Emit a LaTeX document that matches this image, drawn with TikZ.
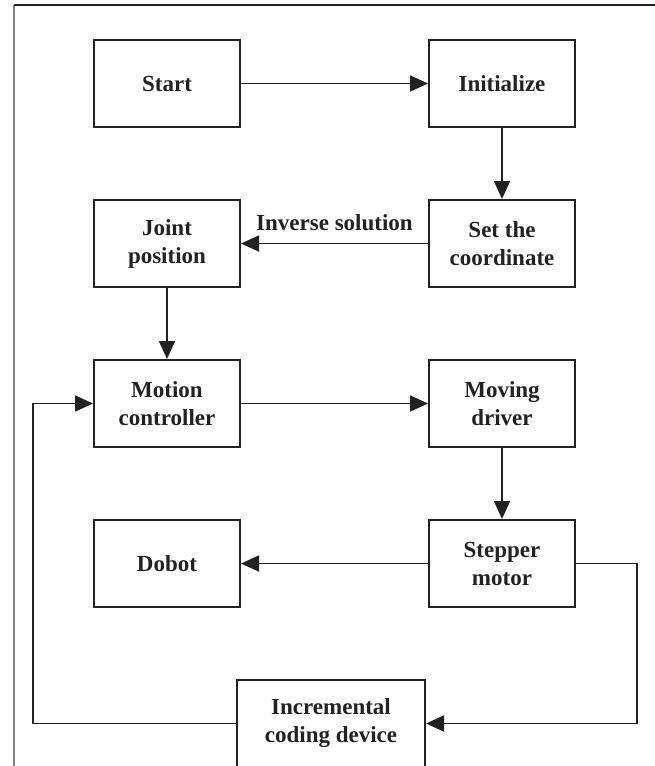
\documentclass[tikz,border=0pt]{standalone}
\usepackage{fontspec}
\setmainfont{Liberation Serif}
\usetikzlibrary{arrows.meta}
\definecolor{ink}{HTML}{222222}
\tikzset{
  box/.style={draw=ink, line width=2pt, minimum width=146pt, minimum height=87pt, inner sep=0pt, align=center, text=ink, font=\fontsize{23}{28}\selectfont\bfseries},
  flow/.style={draw=ink, line width=1.8pt, -{Triangle[length=18pt,width=16pt]}},
  lbl/.style={text=ink, font=\fontsize{23}{28}\selectfont\bfseries}
}
\begin{document}
\begin{tikzpicture}[x=1pt,y=-1pt]
\useasboundingbox (0,0) rectangle (655,766);
\draw[gray, line width=1.6pt] (14,766) -- (14,5);
\draw[ink, line width=1.6pt] (14,5) -- (655,5);
\node[box] (start) at (167,83.5) {Start};
\node[box] (init) at (502,83.5) {Initialize};
\node[box] (set) at (502,243.5) {Set the\\coordinate};
\node[box] (joint) at (167,243.5) {Joint\\position};
\node[box] (motion) at (167,403.5) {Motion\\controller};
\node[box] (moving) at (502,403.5) {Moving\\driver};
\node[box] (stepper) at (502,563.5) {Stepper\\motor};
\node[box] (dobot) at (167,563.5) {Dobot};
\node[box, minimum width=188pt] (enc) at (331,723.5) {Incremental\\coding device};
\coordinate (r1) at (637,563.5);
\coordinate (r2) at (637,723.5);
\coordinate (l1) at (33,723.5);
\coordinate (l2) at (33,403.5);
\draw[flow] (start) -- (init);
\draw[flow] (init) -- (set);
\draw[flow] (set) -- node[above=8pt, lbl] {Inverse solution} (joint);
\draw[flow] (joint) -- (motion);
\draw[flow] (motion) -- (moving);
\draw[flow] (moving) -- (stepper);
\draw[flow] (stepper) -- (dobot);
\draw[flow] (stepper.east) -- (r1) -- (r2) -- (enc.east);
\draw[flow] (enc.west) -- (l1) -- (l2) -- (motion.west);
\end{tikzpicture}
\end{document}
